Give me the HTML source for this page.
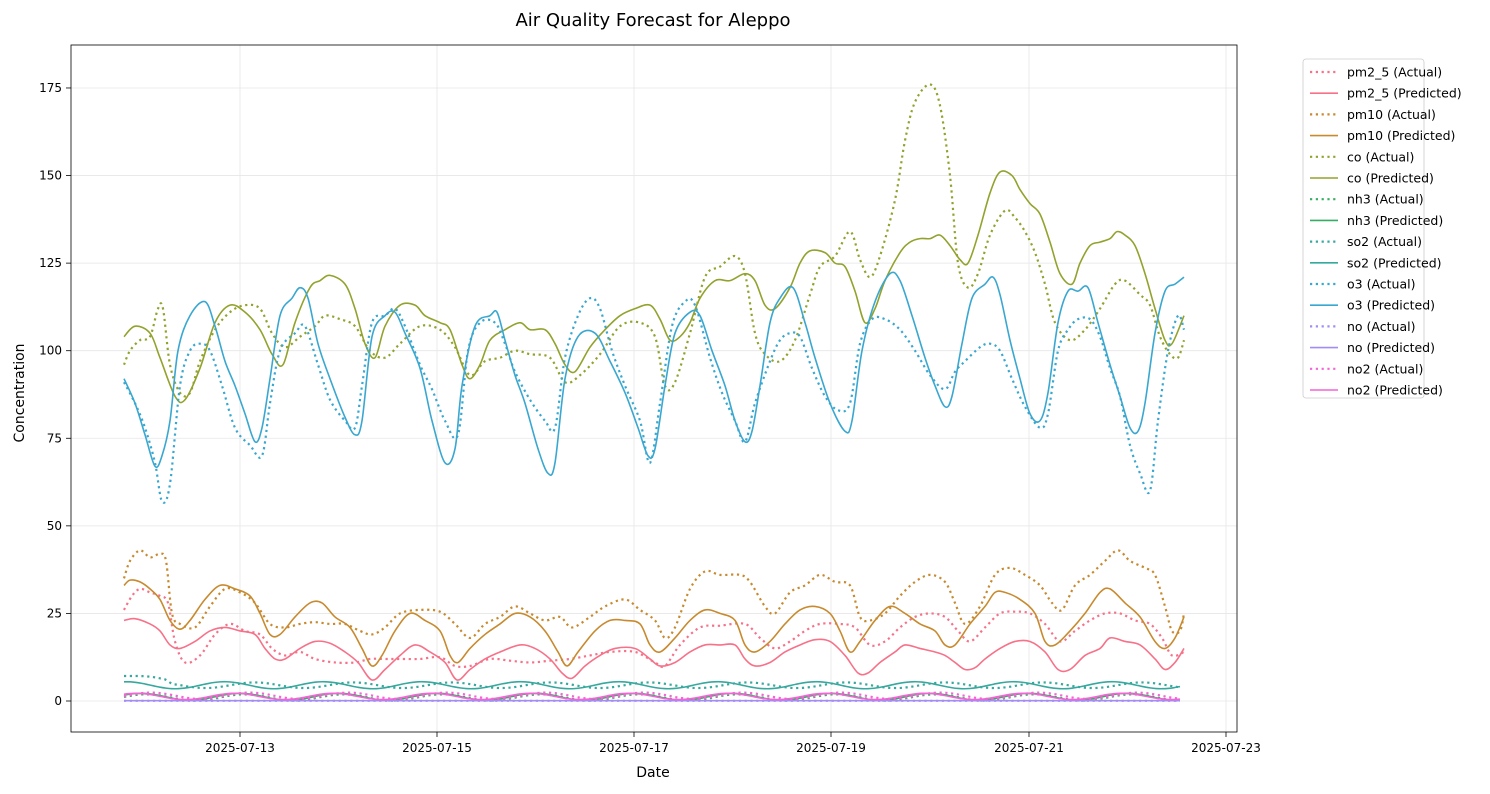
<!DOCTYPE html>
<html><head><meta charset="utf-8"><style>
body{margin:0;background:#fff;font-family:"Liberation Sans","DejaVu Sans",sans-serif;}
svg text{font-family:"DejaVu Sans","Liberation Sans",sans-serif;}
</style></head><body>
<svg id="s" width="1490" height="789" xmlns="http://www.w3.org/2000/svg">
<rect width="1490" height="789" fill="#fff"/>
<defs><clipPath id="c"><rect x="71" y="45" width="1166" height="687"/></clipPath></defs>
<g id="grid" stroke="#e6e6e6" stroke-width="0.8"></g>
<g id="series" clip-path="url(#c)" fill="none" stroke-linejoin="round"></g>
<rect x="71" y="45" width="1166" height="687" fill="none" stroke="#000" stroke-width="0.8"/>
<g id="ticks" font-size="12" fill="#000"></g>
<text x="653" y="26" font-size="18" text-anchor="middle">Air Quality Forecast for Aleppo</text>
<text x="653" y="777" font-size="14" text-anchor="middle">Date</text>
<text x="24" y="393" font-size="14" text-anchor="middle" transform="rotate(-90 24 393)">Concentration</text>
<rect x="1303" y="59" width="121" height="339" rx="3" fill="#fff" stroke="#ccc" stroke-width="0.8"/>
<g id="legend" font-size="12.5"></g>
</svg>
<script>
const NS="http://www.w3.org/2000/svg";
function el(t,a,p,txt){const e=document.createElementNS(NS,t);for(const k in a)e.setAttribute(k,a[k]);if(txt!==undefined)e.textContent=txt;p.appendChild(e);return e;}
const Y=v=>701-v*3.503;
const grid=document.getElementById('grid'),ticks=document.getElementById('ticks');
for(let v=0;v<=175;v+=25){const y=Y(v);el('line',{x1:71,x2:1237,y1:y,y2:y},grid);el('line',{x1:66,x2:71,y1:y,y2:y,stroke:'#000','stroke-width':0.8},ticks);el('text',{x:62,y:y+4,'text-anchor':'end'},ticks,v);}
const xd=[[240,'2025-07-13'],[437,'2025-07-15'],[634,'2025-07-17'],[831,'2025-07-19'],[1029,'2025-07-21'],[1226,'2025-07-23']];
for(const [x,l] of xd){el('line',{x1:x,x2:x,y1:45,y2:732},grid);el('line',{x1:x,x2:x,y1:732,y2:737,stroke:'#000','stroke-width':0.8},ticks);el('text',{x:x,y:752,'text-anchor':'middle'},ticks,l);}
function path(pts){pts=pts.map(p=>[p[0],Y(p[1])]);let d='M'+pts[0][0]+','+pts[0][1];
for(let i=0;i<pts.length-1;i++){const p0=pts[i-1]||pts[i],p1=pts[i],p2=pts[i+1],p3=pts[i+2]||p2;
d+=` C${p1[0]+(p2[0]-p0[0])/6},${p1[1]+(p2[1]-p0[1])/6} ${p2[0]-(p3[0]-p1[0])/6},${p2[1]-(p3[1]-p1[1])/6} ${p2[0]},${p2[1]}`;}return d;}
function gen(f){const a=[];for(let x=124;x<=1184;x+=6)a.push([x,f(x)]);return a;}
const P=2*Math.PI/98.6;
const C={pm:'#f77189',pm10:'#c88a2e',co:'#93a22c',nh3:'#35ad62',so2:'#37a89e',o3:'#39a7d0',no:'#a38cf4',no2:'#f464d6'};
const D={
co_p:[[124,104],[135,107],[150,105],[160,98],[175,87],[185,86],[200,95],[215,108],[230,113],[245,111],[260,106],[272,99],[283,96],[295,108],[310,118],[320,120],[330,121.5],[345,119],[355,112],[365,102],[375,98],[385,107],[400,113],[415,113],[425,110],[440,108],[450,106],[462,96],[470,92],[480,96],[490,103],[505,106],[520,108],[530,106],[545,106],[555,102],[565,96],[575,94],[590,101],[605,106],[620,110],[635,112],[650,113],[660,109],[670,103],[680,104],[690,108],[700,115],[715,120],[730,120],[745,122],[755,120],[765,113],[775,112],[790,118],[800,125],[810,128.5],[825,128],[835,125],[845,124],[855,117],[865,108],[875,112],[885,120],[900,128],[910,131],[920,132],[930,132],[940,133],[950,130],[960,126],[968,125],[978,133],[990,145],[1000,151],[1012,150],[1020,146],[1030,142],[1040,139],[1050,131],[1060,122],[1072,119],[1080,125],[1090,130],[1100,131],[1110,132],[1117,134],[1125,133],[1135,130],[1145,122],[1155,112],[1165,103],[1172,102],[1184,110]],
co_a:[[124,96],[130,100],[140,103],[150,104],[158,112],[163,112],[170,96],[180,88],[190,88],[200,97],[215,106],[230,111],[245,113],[260,112],[272,105],[285,101],[300,104],[315,107],[325,110],[340,109],[355,107],[370,100],[385,98],[400,102],[420,107],[440,106],[455,101],[470,93],[485,97],[500,98],[515,100],[530,99],[550,98],[565,91],[580,93],[600,99],[620,107],[640,108],[655,104],[665,90],[675,91],[690,105],[705,121],[720,124],[735,127],[745,122],[755,105],[765,99],[780,97],[795,103],[810,116],[820,124],[835,127],[850,134],[860,126],[870,121],[880,127],[895,143],[905,160],[915,171],[930,176],[940,170],[950,150],[958,125],[968,118],[978,122],[990,133],[1005,140],[1015,138],[1025,134],[1035,128],[1045,119],[1055,108],[1070,103],[1085,106],[1100,112],[1115,119],[1125,120],[1140,116],[1150,113],[1160,104],[1170,99],[1178,98],[1184,103]],
o3_p:[[124,92],[135,85],[145,76],[155,67],[162,70],[170,80],[178,100],[190,110],[205,114],[215,107],[225,97],[235,90],[245,82],[255,74],[262,78],[270,92],[280,110],[292,115],[300,118],[308,115],[318,102],[330,92],[345,81],[355,76],[362,80],[372,104],[385,110],[395,111],[405,105],[420,95],[432,80],[445,68],[455,72],[462,90],[475,107],[490,110],[497,111],[505,103],[515,93],[525,85],[538,72],[548,65],[555,68],[565,92],[578,104],[595,105],[610,97],[625,88],[638,78],[648,70],[655,72],[665,90],[675,105],[690,111],[700,110],[712,100],[725,90],[735,80],[745,74],[752,77],[760,90],[770,108],[780,115],[793,118],[805,108],[815,98],[830,85],[845,77],[852,80],[862,100],[875,114],[890,122],[900,120],[912,110],[925,98],[935,90],[945,84],[952,87],[962,102],[972,115],[985,119],[993,121],[1000,116],[1010,103],[1020,92],[1030,82],[1040,80],[1048,88],[1058,108],[1068,117],[1078,117],[1088,118],[1098,108],[1110,96],[1120,87],[1130,78],[1138,77],[1145,85],[1155,105],[1165,117],[1175,119],[1184,121]],
o3_a:[[124,91],[135,85],[145,78],[155,68],[162,57],[170,62],[180,90],[190,100],[200,102],[210,100],[222,90],[235,78],[250,73],[262,70],[270,85],[280,100],[295,105],[305,107],[318,96],[330,86],[345,80],[355,78],[362,90],[372,108],[385,110],[395,112],[405,107],[420,96],[432,89],[445,80],[458,76],[468,100],[480,108],[495,108],[505,102],[515,94],[530,86],[545,80],[555,78],[565,98],[578,110],[590,115],[600,112],[612,100],[625,90],[640,80],[650,68],[660,85],[672,107],[685,114],[695,113],[710,98],[722,88],[735,80],[745,74],[755,85],[770,97],[780,103],[790,105],[800,104],[812,95],[825,87],[838,83],[850,85],[860,102],[872,109],[885,109],[900,106],[915,100],[930,93],[945,89],[955,94],[965,97],[980,101],[990,102],[1000,100],[1012,92],[1025,84],[1040,78],[1048,82],[1058,100],[1068,106],[1078,109],[1090,109],[1100,104],[1110,95],[1120,87],[1130,73],[1140,65],[1150,60],[1158,80],[1168,100],[1178,110],[1184,106]],
pm10_p:[[124,33],[130,34.5],[140,34],[150,32],[160,29],[170,23],[180,20.5],[190,23],[205,29],[220,33],[235,32],[250,30],[260,25],[270,19],[280,19],[295,24],[310,28],[322,28],[335,24],[350,21],[362,15],[372,10],[382,13],[395,20],[410,25],[425,23],[440,20],[450,13],[458,11],[470,15],[485,19],[500,22],[515,25],[530,24],[545,20],[558,14],[567,10],[578,14],[595,20],[610,23],[625,23],[640,22],[650,16],[660,14],[675,18],[690,23],[705,26],[720,25],[735,23],[745,16],[755,14],[770,17],[785,22],[800,26],[815,27],[830,25],[840,20],[850,14],[860,17],[875,23],[890,27],[905,25],[920,22],[935,20],[945,16],[955,16],[970,22],[985,27],[995,31],[1005,31],[1020,29],[1035,25],[1045,17],[1055,16],[1070,20],[1085,25],[1100,31],[1110,32],[1125,28],[1140,24],[1155,17],[1165,15],[1175,18],[1184,24]],
pm10_a:[[124,35],[130,40],[140,43],[150,41],[160,42],[166,40],[172,25],[180,22],[195,21],[210,27],[225,32],[240,31],[255,28],[270,22],[285,21],[300,22],[315,22.5],[330,22],[345,22],[360,20],[372,19],[385,21],[400,25],[420,26],[440,25.5],[455,22],[470,18],[485,22],[500,24],[515,27],[530,25],[545,23],[560,24],[572,21],[590,24],[605,27],[625,29],[640,26],[655,23],[665,18],[675,21],[690,32],[705,37],[720,36],[740,36],[750,34],[765,27],[775,25],[790,31],[805,33],[820,36],[835,34],[850,33],[860,24],[870,23],[885,25],[900,30],[915,34],[930,36],[945,34],[955,28],[965,22],[980,27],[995,36],[1010,38],[1025,36],[1040,33],[1052,28],[1062,26],[1075,33],[1090,36],[1105,40],[1118,43],[1130,40],[1145,38],[1155,36],[1165,27],[1172,20],[1180,20],[1184,25]],
pm_p:[[124,23],[135,23.5],[150,22],[160,20],[170,16],[180,15],[195,17],[210,20],[225,21],[240,20],[255,19],[265,15],[275,12],[285,12],[300,15],[315,17],[330,16.5],[345,14],[358,11],[372,6],[385,9],[400,13],[415,16],[430,14],[445,11],[457,6],[470,9],[485,12],[500,14],[520,16],[535,15],[550,12],[562,8],[572,6.5],[585,10],[600,13],[615,15],[635,15],[650,12],[660,10],[675,11],[690,14],[705,16],[720,16],[735,16],[745,12],[755,10],[770,11],[785,14],[800,16],[815,17.5],[830,17],[845,13],[858,8],[868,8],[880,11],[895,14],[905,16],[920,15],[935,14],[945,13],[955,11],[965,9],[975,9.5],[985,12],[1000,15],[1015,17],[1030,17],[1045,14],[1058,9],[1070,9],[1085,13],[1100,15],[1110,18],[1125,17],[1140,16],[1155,12],[1165,9],[1175,11],[1184,15]],
pm_a:[[124,26],[132,30],[140,32],[150,31],[160,30],[168,28],[175,17],[185,11],[200,13],[215,19],[230,22],[245,20],[260,19],[272,15],[285,13],[300,14],[315,12],[335,11],[355,11],[370,12],[385,12],[400,12],[420,12],[440,12.5],[455,10],[470,10],[490,12],[510,11.5],[530,11],[550,11.5],[570,12],[590,13],[610,14],[635,14],[655,11],[665,10],[680,16],[700,21],[720,21.5],[745,22],[760,18],[775,15],[790,17],[805,20],[820,22],[840,22],[855,21],[870,16],[885,17],[900,21],[915,24],[930,25],[945,24],[958,20],[970,17],[985,21],[1000,25],[1015,25.5],[1030,25],[1045,22],[1060,17],[1075,20],[1090,23],[1105,25],[1120,25],[1135,23],[1150,22],[1162,18],[1172,13],[1184,14]],
so2_p:gen(x=>4.5+1*Math.sin((x-200)*P)),
so2_a:gen(x=>(x<170?7.5-(x-124)/20:4.5)+0.8*Math.sin((x-230)*P)),
nh3_p:gen(x=>1.2+1*Math.sin((x-215)*P)),
nh3_a:gen(x=>1+0.9*Math.sin((x-220)*P)),
no_p:gen(x=>0.1),no_a:gen(x=>0.05),
no2_p:gen(x=>1.3+0.9*Math.sin((x-210)*P)),
no2_a:gen(x=>1.5+0.9*Math.sin((x-225)*P)),
};
const S=document.getElementById('series');
const order=[['pm','pm_a','pm_p'],['pm10','pm10_a','pm10_p'],['co','co_a','co_p'],['nh3','nh3_a','nh3_p'],['so2','so2_a','so2_p'],['o3','o3_a','o3_p'],['no','no_a','no_p'],['no2','no2_a','no2_p']];
for(const [c,a,p] of order){
el('path',{d:path(D[a]),stroke:C[c],'stroke-width':2.2,'stroke-dasharray':'2.2,3.6'},S);
el('path',{d:path(D[p]),stroke:C[c],'stroke-width':1.6},S);}
const names=['pm2_5','pm10','co','nh3','so2','o3','no','no2'];
const L=document.getElementById('legend');let y=72;
names.forEach((n,i)=>{const c=C[order[i][0]];
el('line',{x1:1310,x2:1338,y1:y,y2:y,stroke:c,'stroke-width':2.2,'stroke-dasharray':'2.2,3.6'},L);
el('text',{x:1347,y:y+4.5},L,n+' (Actual)');y+=21.2;
el('line',{x1:1310,x2:1338,y1:y,y2:y,stroke:c,'stroke-width':1.6},L);
el('text',{x:1347,y:y+4.5},L,n+' (Predicted)');y+=21.2;});
</script>
</body></html>
